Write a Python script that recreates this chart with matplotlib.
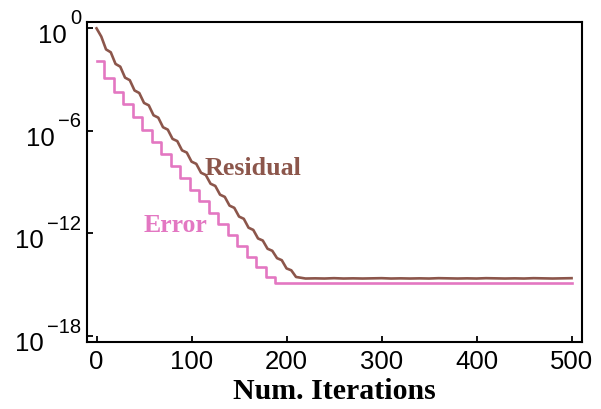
import numpy as np
import matplotlib
matplotlib.use("Agg")
import matplotlib.pyplot as plt
from matplotlib.transforms import offset_copy

plt.rcParams["font.family"] = ["Liberation Sans", "DejaVu Sans"]

# Error: piecewise-constant levels (log10) and the iterations where each level starts
err_step_iters = [0, 8, 18, 28, 38, 48, 58, 68, 78, 88, 98, 108, 118, 128,
                  138, 148, 158, 168, 178, 188, 500]
err_log_levels = [-1.91, -2.94, -3.72, -4.47, -5.21, -5.94, -6.66, -7.37,
                  -8.07, -8.76, -9.44, -10.12, -10.79, -11.45, -12.10,
                  -12.74, -13.37, -13.99, -14.54, -14.90, -14.90]

# Residual: log10 values sampled every 5 iterations during the descent
res_desc_iters = list(range(0, 215, 5))
res_desc_log = [-0.02, -0.50, -1.25, -1.42, -2.10, -2.26, -2.90, -3.05,
                -3.65, -3.80, -4.38, -4.52, -5.10, -5.24, -5.80, -5.94,
                -6.48, -6.61, -7.15, -7.28, -7.81, -7.94, -8.46, -8.59,
                -9.10, -9.23, -9.74, -9.87, -10.38, -10.51, -11.02, -11.15,
                -11.67, -11.80, -12.30, -12.42, -12.90, -13.02, -13.45,
                -13.57, -14.05, -14.16, -14.55]

# Residual plateau after convergence, every 10 iterations
res_flat_iters = list(range(220, 510, 10))
res_flat_log = [-14.64, -14.63, -14.64, -14.62, -14.64, -14.63, -14.64,
                -14.63, -14.62, -14.64, -14.63, -14.64, -14.63, -14.64,
                -14.62, -14.63, -14.64, -14.63, -14.64, -14.62, -14.63,
                -14.64, -14.63, -14.64, -14.62, -14.63, -14.64, -14.63,
                -14.62]

xticks = [0, 100, 200, 300, 400, 500]
yticks_exp = [0, -6, -12, -18]

res_color = "#8c564b"
err_color = "#e377c2"

fig = plt.figure(figsize=(6.01, 4.10), dpi=100)
ax = fig.add_axes([0.1448, 0.1634, 0.9684 - 0.1448, 0.9439 - 0.1634])

res_x = np.array(res_desc_iters + res_flat_iters)
res_y = 10.0 ** np.array(res_desc_log + res_flat_log)
ax.semilogy(res_x, res_y, color=res_color, lw=1.9)

ax.semilogy(err_step_iters, 10.0 ** np.array(err_log_levels),
            color=err_color, lw=1.9, drawstyle="steps-post")

ax.text(113.8, 10 ** -8.53, "Residual", color=res_color, fontsize=18.7,
        fontweight="bold", family=["Liberation Serif"], va="baseline")
ax.text(49, 10 ** -11.84, "Error", color=err_color, fontsize=18.5,
        fontweight="bold", family=["Liberation Serif"], va="baseline")

ax.set_xlim(-10, 511)
ax.set_ylim(10 ** -18.35, 10 ** 0.35)
ax.set_xticks(xticks)
ax.set_yticks([10.0 ** e for e in yticks_exp])
ax.set_yticklabels([])
ax.minorticks_off()
ax.tick_params(direction="in", length=4, width=1.3, pad=5,
               top=False, right=False)
ax.tick_params(axis="x", labelsize=18.5)
for s in ax.spines.values():
    s.set_linewidth(1.5)

ax.set_xlabel("Num. Iterations", fontsize=21.5, fontweight="bold",
              family=["Liberation Serif"], labelpad=3)

# Power-of-ten labels on the y axis: base and raised exponent drawn separately
ytrans = ax.get_yaxis_transform()
exp_texts = []
for e in yticks_exp:
    exp_str = str(e).replace("-", "\u2212")
    t = ax.text(0, 10.0 ** e, exp_str, fontsize=14.5, ha="right",
                va="baseline", clip_on=False,
                transform=offset_copy(ytrans, fig=fig, x=-6, y=4.5,
                                      units="dots"))
    exp_texts.append(t)

fig.canvas.draw()
renderer = fig.canvas.get_renderer()
for e, t in zip(yticks_exp, exp_texts):
    w = t.get_window_extent(renderer).width
    ax.text(0, 10.0 ** e, "10", fontsize=18.5, ha="right", va="baseline",
            clip_on=False,
            transform=offset_copy(ytrans, fig=fig, x=-6 - w - 3, y=-14,
                                  units="dots"))

fig.savefig("out.png", dpi=100)
